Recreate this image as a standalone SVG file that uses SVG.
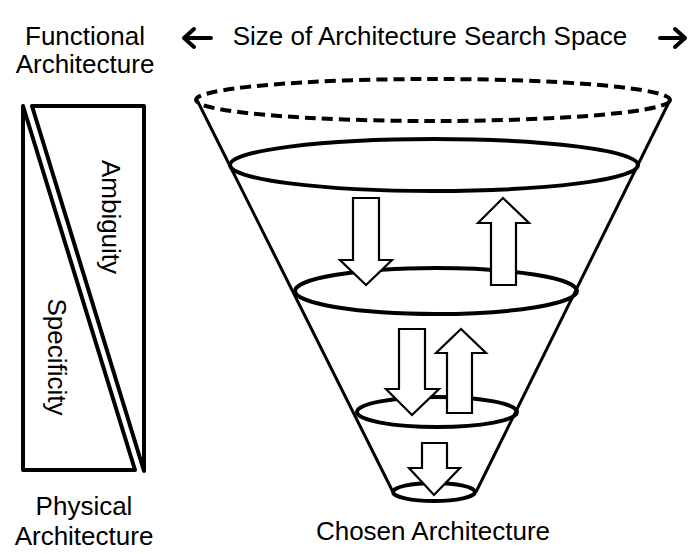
<svg xmlns="http://www.w3.org/2000/svg" width="688" height="554" viewBox="0 0 688 554">
<style>
text{font-family:"Liberation Sans",Arial,sans-serif;font-size:26px;fill:#000}
.ring{fill:none;stroke:#000;stroke-width:4}
.cone{fill:none;stroke:#000;stroke-width:3}
.blk{fill:white;stroke:#000;stroke-width:2.2;stroke-linejoin:miter}
.tri{fill:none;stroke:#000;stroke-width:4;stroke-linejoin:round}
.hd{fill:none;stroke:#000;stroke-width:4;stroke-linecap:round;stroke-linejoin:round}
</style>
<rect width="688" height="554" fill="#fff"/>
<g id="title">
<path class="hd" d="M211,38 H184 M194,29 L184,38 L194,47"/>
<text x="430" y="45" text-anchor="middle">Size of Architecture Search Space</text>
<path class="hd" d="M660,38 H685 M675,29 L685,38 L675,47"/>
</g>
<g id="functional-label">
<text x="85" y="45" text-anchor="middle">Functional</text>
<text x="85" y="73" text-anchor="middle">Architecture</text>
</g>
<g id="scale">
<path class="tri" d="M23,106 V470 H135 Z"/>
<path class="tri" d="M32,106 H144 V471 Z"/>
<text transform="translate(102,217) rotate(90)" text-anchor="middle">Ambiguity</text>
<text transform="translate(48,357) rotate(90)" text-anchor="middle">Specificity</text>
</g>
<g id="physical-label">
<text x="84" y="515" text-anchor="middle">Physical</text>
<text x="84" y="545" text-anchor="middle">Architecture</text>
</g>
<g id="funnel">
<ellipse class="ring" cx="433" cy="100" rx="237" ry="21" stroke-dasharray="11,6"/>
<line class="cone" x1="197" y1="100" x2="393" y2="492"/>
<line class="cone" x1="670" y1="100" x2="476" y2="492"/>
<ellipse id="level1" class="ring" cx="434" cy="165" rx="204" ry="26"/>
<ellipse id="level2" class="ring" cx="436" cy="291" rx="141" ry="23"/>
<ellipse id="level3" class="ring" cx="437" cy="412" rx="80" ry="15"/>
<ellipse id="level4" class="ring" cx="434" cy="492" rx="41" ry="9"/>
</g>
<g id="connectors">
<path class="blk" d="M353,198 H379 V260 H392 L366,285 L340,260 H353 Z"/>
<path class="blk" d="M491,285 V223 H478 L503,198 L529,223 H516 V285 Z"/>
<path class="blk" d="M399,329 H425 V389 H439 L412,415 L386,389 H399 Z"/>
<path class="blk" d="M447,413 V353 H436 L461,329 L486,353 H472 V413 Z"/>
<path class="blk" d="M422,443 H447 V468 H460 L434,495 L409,468 H422 Z"/>
</g>
<g id="chosen-label">
<text x="433" y="540" text-anchor="middle">Chosen Architecture</text>
</g>
</svg>
